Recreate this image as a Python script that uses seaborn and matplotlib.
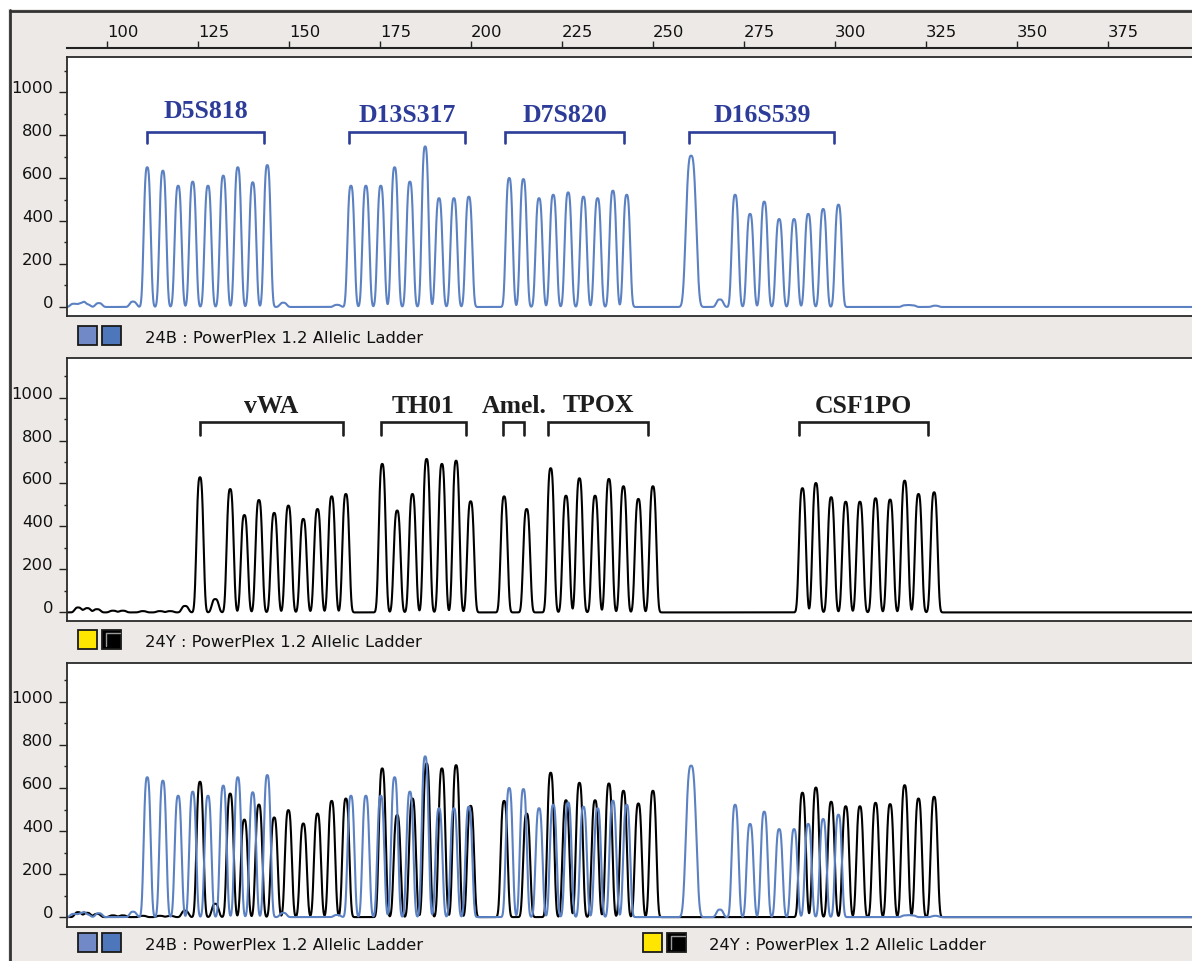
import numpy as np
import pandas as pd
import matplotlib
matplotlib.use("Agg")
import matplotlib.pyplot as plt
import seaborn as sns
from matplotlib.patches import Rectangle
from matplotlib.lines import Line2D

# ---------------- data ----------------
size_ticks = [100, 125, 150, 175, 200, 225, 250, 275, 300, 325, 350, 375]
rfu_ticks = [0, 200, 400, 600, 800, 1000]
rfu_minor = [100, 300, 500, 700, 900, 1100]

# 24B (blue) channel: peak size (bp) and height (RFU)
D5S818_bp = [111.0, 115.3, 119.5, 123.5, 127.7, 131.9, 135.9, 140.0, 144.0]
D5S818_rfu = [650, 634, 564, 583, 564, 611, 650, 580, 660]
D13S317_bp = [167.0, 171.1, 175.2, 179.0, 183.2, 187.4, 191.2, 195.3, 199.4]
D13S317_rfu = [564, 564, 564, 650, 583, 747, 506, 506, 513]
D7S820_bp = [210.5, 214.4, 218.7, 222.6, 226.7, 230.9, 234.8, 239.0, 242.8]
D7S820_rfu = [600, 595, 506, 522, 533, 513, 506, 541, 522]
D16S539_bp = [260.5, 272.6, 276.7, 280.6, 284.7, 288.8, 292.7, 296.8, 301.0]
D16S539_rfu = [704, 522, 433, 490, 409, 409, 433, 456, 476]
blue_noise_bp = [90.8, 93.0, 94.4, 97.7, 107.1, 148.4, 163.2, 268.4, 319.4, 321.3, 327.6]
blue_noise_rfu = [15, 18, 12, 18, 25, 20, 10, 35, 8, 8, 6]

# 24Y (black) channel
vWA_bp = [125.5, 133.8, 137.7, 141.7, 145.9, 149.8, 153.9, 157.8, 161.7, 165.6]
vWA_rfu = [629, 574, 453, 523, 463, 497, 435, 481, 540, 551]
TH01_bp = [175.6, 179.7, 183.9, 187.8, 192.0, 195.9, 199.9]
TH01_rfu = [691, 474, 551, 714, 691, 706, 517]
Amel_bp = [209.1, 215.3]
Amel_rfu = [540, 481]
TPOX_bp = [221.9, 226.1, 229.8, 234.1, 237.9, 241.9, 246.0, 250.0]
TPOX_rfu = [671, 543, 624, 543, 621, 587, 528, 587]
CSF1PO_bp = [291.1, 294.8, 299.0, 303.0, 306.9, 311.2, 315.2, 319.2, 323.0, 327.3]
CSF1PO_rfu = [578, 602, 536, 515, 515, 531, 525, 613, 551, 559]
black_noise_bp = [92.0, 94.5, 97.2, 101.6, 104.3, 109.8, 114.5, 117.3, 121.4, 129.7]
black_noise_rfu = [23, 20, 15, 8, 8, 6, 6, 6, 30, 62]

# loci brackets (bp ranges)
blue_loci = ["D5S818", "D13S317", "D7S820", "D16S539"]
blue_loci_start = [110.9, 166.5, 209.4, 260.0]
blue_loci_end = [143.2, 198.4, 242.1, 299.9]
black_loci = ["vWA", "TH01", "Amel.", "TPOX", "CSF1PO"]
black_loci_start = [125.5, 175.3, 208.9, 221.2, 290.2]
black_loci_end = [164.8, 198.6, 214.6, 248.7, 325.6]

channel_labels = ["24B : PowerPlex 1.2 Allelic Ladder", "24Y : PowerPlex 1.2 Allelic Ladder"]

# ---------------- style ----------------
sns.set_style("white")
plt.rcParams["font.family"] = ["DejaVu Sans"]

W, H = 1192, 962
BG = "#ECE9E6"
BLUE = "#5B81C2"
NAVY = "#2C3C98"
DARK = "#1E1E1E"

fig = plt.figure(figsize=(W / 100, H / 100), dpi=100, facecolor=BG)


def fx(x):
    return x / W


def fy(y):
    return 1 - y / H


grid = np.arange(86.0, 400.0, 0.04)


def trace(pos_lists, h_lists, width):
    pos = np.concatenate([np.asarray(p, float) for p in pos_lists])
    hh = np.concatenate([np.asarray(h, float) for h in h_lists])
    s = np.full_like(pos, width)
    s[np.isclose(pos, 260.5)] = 1.7
    d = np.abs((grid[None, :] - pos[:, None]) / s[:, None])
    return (hh[:, None] * np.exp(-d ** 3)).sum(0)


blue_y = trace([D5S818_bp, D13S317_bp, D7S820_bp, D16S539_bp, blue_noise_bp],
               [D5S818_rfu, D13S317_rfu, D7S820_rfu, D16S539_rfu, blue_noise_rfu], 1.15)
black_y = trace([vWA_bp, TH01_bp, Amel_bp, TPOX_bp, CSF1PO_bp, black_noise_bp],
                [vWA_rfu, TH01_rfu, Amel_rfu, TPOX_rfu, CSF1PO_rfu, black_noise_rfu], 1.15)
df = pd.DataFrame({"bp": grid, "blue": blue_y, "black": black_y})

# window border
fig.add_artist(Rectangle((0, 0), fx(8), 1, transform=fig.transFigure, facecolor="white", edgecolor="none"))
fig.add_artist(Rectangle((0, fy(10)), 1, 10 / H, transform=fig.transFigure, facecolor="white", edgecolor="none"))
fig.add_artist(Line2D([fx(9.5), fx(9.5)], [fy(10.5), 0], transform=fig.transFigure, color="#333333", lw=2.0))
fig.add_artist(Line2D([fx(9.5), 1], [fy(11.5), fy(11.5)], transform=fig.transFigure, color="#333333", lw=2.0))

left_px = 67
xlim = (100 + (left_px - 107.2) / 3.638, 100 + (W - 107.2) / 3.638)

panels = [(58, 317, (-42, 1163)), (359, 622, (-40, 1184)), (664, 928, (-46, 1181))]
axes = []
for top, bot, yl in panels:
    ax = fig.add_axes([fx(left_px), fy(bot), 1 - fx(left_px), (bot - top) / H])
    ax.set_facecolor("white")
    ax.set_xlim(*xlim)
    ax.set_ylim(*yl)
    for side in ["left", "top", "bottom"]:
        ax.spines[side].set_color("#2a2a2a")
        ax.spines[side].set_linewidth(1.3)
    ax.spines["right"].set_visible(False)
    ax.set_xticks([])
    ax.set_yticks(rfu_ticks)
    ax.set_yticks(rfu_minor, minor=True)
    ax.set_yticklabels([str(v) for v in rfu_ticks])
    ax.tick_params(axis="y", which="major", direction="out", length=6, width=1.0,
                   pad=4, labelsize=11.8, color="#222222", labelcolor="#111111", left=True)
    ax.tick_params(axis="y", which="minor", direction="out", length=2.2, width=1.0,
                   color="#222222", left=True)
    for lab in ax.get_yticklabels():
        lab.set_verticalalignment("baseline")
    axes.append(ax)

ax1, ax2, ax3 = axes

line_kw = dict(linewidth=1.5, estimator=None, sort=False)
sns.lineplot(data=df, x="bp", y="blue", ax=ax1, color=BLUE, **line_kw)
sns.lineplot(data=df, x="bp", y="black", ax=ax2, color="black", **line_kw)
sns.lineplot(data=df, x="bp", y="black", ax=ax3, color="black", **line_kw)
sns.lineplot(data=df, x="bp", y="blue", ax=ax3, color=BLUE, **line_kw)
for ax in axes:
    ax.set_xlabel("")
    ax.set_ylabel("")
    ax.set_xlim(*xlim)

# locus brackets and names
serif = ["Liberation Serif", "DejaVu Serif"]
for name, s, e in zip(blue_loci, blue_loci_start, blue_loci_end):
    ax1.plot([s, s, e, e], [763, 814, 814, 763], color=NAVY, lw=1.9, solid_joinstyle="miter")
    yb = 882 if name == "D5S818" else 867
    ax1.text((s + e) / 2, yb, name, ha="center", va="baseline", color=NAVY,
             fontsize=18.5, fontweight="bold", family=serif)
for name, s, e in zip(black_loci, black_loci_start, black_loci_end):
    ax2.plot([s, s, e, e], [826, 885, 885, 826], color=DARK, lw=1.9, solid_joinstyle="miter")
    yb = 938 if name == "TPOX" else 933
    ax2.text((s + e) / 2, yb, name, ha="center", va="baseline", color=DARK,
             fontsize=18.5, fontweight="bold", family=serif)

# top size ruler
axt = fig.add_axes([fx(left_px), fy(49), 1 - fx(left_px), 0.0001])
axt.set_facecolor("none")
axt.set_xlim(*xlim)
for side in ["left", "right", "bottom"]:
    axt.spines[side].set_visible(False)
axt.spines["top"].set_color("#222222")
axt.spines["top"].set_linewidth(1.5)
axt.set_yticks([])
axt.xaxis.tick_top()
axt.set_xticks(size_ticks)
axt.set_xticklabels([str(v) for v in size_ticks])
axt.tick_params(axis="x", which="major", direction="out", length=5, width=1.0, pad=1.2,
                labelsize=11.8, color="#222222", labelcolor="#111111", top=True, bottom=False)
for lab in axt.get_xticklabels():
    lab.set_horizontalalignment("left")


# channel strips
def square(x0, y0, size, fc):
    fig.add_artist(Rectangle((fx(x0), fy(y0 + size)), size / W, size / H, transform=fig.transFigure,
                             facecolor=fc, edgecolor="#1a1a1a", lw=1.3))


def strip(x_sq, baseline, kind, text_x):
    y0 = baseline - 16
    if kind == "B":
        square(x_sq, y0, 19, "#7189C6")
        square(x_sq + 24, y0, 19, "#4D77BA")
        txt = channel_labels[0]
    else:
        square(x_sq, y0, 19, "#FFE600")
        square(x_sq + 24, y0, 19, "#000000")
        fig.add_artist(Line2D([fx(x_sq + 28), fx(x_sq + 28), fx(x_sq + 42)],
                              [fy(y0 + 16), fy(y0 + 3), fy(y0 + 3)],
                              transform=fig.transFigure, color="#9a9a9a", lw=1.0))
        txt = channel_labels[1]
    fig.text(fx(text_x), fy(baseline), txt, ha="left", va="baseline", fontsize=11.8, color="#111111")


strip(78, 343.3, "B", 145)
strip(78, 646.7, "Y", 145)
strip(78, 950.0, "B", 145)
strip(643, 950.0, "Y", 709)

fig.savefig("out.png", dpi=100, facecolor=BG)
